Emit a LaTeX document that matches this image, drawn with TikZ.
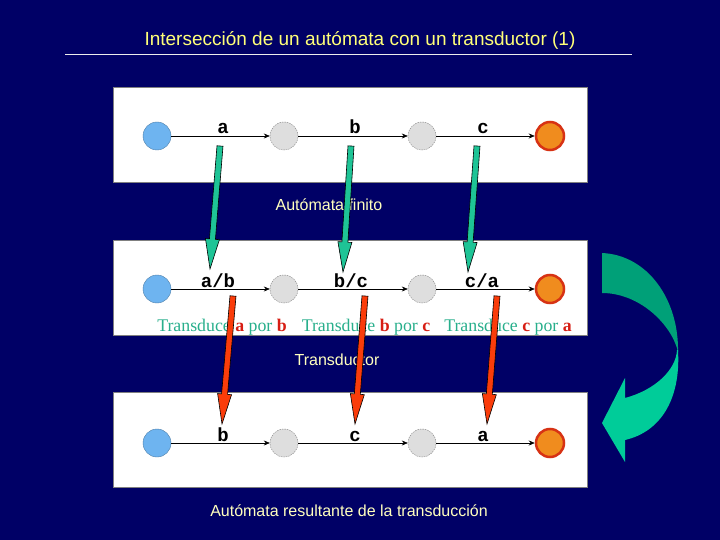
\documentclass[tikz,border=0pt]{standalone}
\usepackage{fontspec}
\setmainfont{Liberation Serif}
\setsansfont{Liberation Sans}
\setmonofont{Liberation Mono}
\usetikzlibrary{calc,arrows.meta}
\definecolor{bgnavy}{RGB}{0,0,102}
\definecolor{titleyel}{RGB}{255,255,120}
\definecolor{lblyel}{RGB}{255,255,190}
\definecolor{greenarr}{RGB}{30,196,150}
\definecolor{redarr}{RGB}{250,60,10}
\definecolor{startblue}{RGB}{110,180,240}
\definecolor{midgrey}{RGB}{222,222,222}
\definecolor{finorange}{RGB}{240,140,30}
\definecolor{finred}{RGB}{215,50,20}
\definecolor{tealtxt}{RGB}{40,175,140}
\definecolor{redtxt}{RGB}{215,30,20}
\definecolor{darkband}{RGB}{0,160,120}
\definecolor{lightband}{RGB}{0,204,153}
\newcommand{\FatArr}[3]{%
  \filldraw[fill=#3,draw=black,line width=0.6pt]
    ($(#1)!3pt!90:(#2)$) --
    ($($(#2)!30pt!(#1)$)!3pt!90:(#2)$) --
    ($($(#2)!30pt!(#1)$)!7pt!90:(#2)$) --
    (#2) --
    ($($(#2)!30pt!(#1)$)!7pt!-90:(#2)$) --
    ($($(#2)!30pt!(#1)$)!3pt!-90:(#2)$) --
    ($(#1)!3pt!-90:(#2)$) -- cycle;}
\tikzset{
  panel/.style={draw=gray,line width=0.6pt,fill=white,minimum width=474pt,minimum height=95pt,inner sep=0pt},
  startst/.style={circle,fill=startblue,draw=startblue!70!black,line width=0.4pt,minimum size=28pt,inner sep=0pt},
  midst/.style={circle,fill=midgrey,draw=gray,dash pattern=on 1.5pt off 1pt,line width=0.4pt,minimum size=28pt,inner sep=0pt},
  finst/.style={circle,fill=finorange,draw=finred,line width=2.5pt,minimum size=28pt,inner sep=0pt},
  edge/.style={draw=black,line width=0.6pt,-{Stealth[length=6pt,width=5pt]}},
  lbl/.style={font=\fontsize{19}{19}\selectfont\ttfamily\bfseries,anchor=base,inner sep=0pt},
  captxt/.style={font=\fontsize{16}{16}\selectfont\sffamily,text=lblyel,inner sep=0pt},
  trtxt/.style={font=\fontsize{17.8}{18}\selectfont\rmfamily,text=tealtxt,inner sep=0pt,anchor=base},
}
\begin{document}
\begin{tikzpicture}[x=1pt,y=-1pt]
\fill[bgnavy] (0,0) rectangle (720,540);
\useasboundingbox (0,0) rectangle (720,540);
% title
\node[font=\fontsize{19}{19}\selectfont\sffamily,text=titleyel,inner sep=0pt] (title) at (360,40) {Intersección de un autómata con un transductor (1)};
\coordinate (tl) at (65,54);
\coordinate (tr) at (632,54);
\draw[white!85!gray,line width=0.8pt] (tl) -- (tr);
% panels
\node[panel] (p1) at (350,134.5) {};
\node[panel] (p2) at (350,288) {};
\node[panel] (p3) at (350,440) {};
% row 1
\node[startst] (s11) at (157,136) {};
\node[midst] (s12) at (284,136) {};
\node[midst] (s13) at (422,136) {};
\node[finst] (s14) at (550,136) {};
\draw[edge] (s11) -- (s12);
\draw[edge] (s12) -- (s13);
\draw[edge] (s13) -- (s14);
\node[lbl] (l11) at (223,134) {a};
\node[lbl] (l12) at (355,134) {b};
\node[lbl] (l13) at (483,134) {c};
% row 2
\node[startst] (s21) at (157,289) {};
\node[midst] (s22) at (284,289) {};
\node[midst] (s23) at (422,289) {};
\node[finst] (s24) at (550,289) {};
\draw[edge] (s21) -- (s22);
\draw[edge] (s22) -- (s23);
\draw[edge] (s23) -- (s24);
\node[lbl] (l21) at (218,287) {a/b};
\node[lbl] (l22) at (351,287) {b/c};
\node[lbl] (l23) at (482,287) {c/a};
\node[trtxt] (t1) at (222,331) {Transduce \textcolor{redtxt}{\textbf{a}} por \textcolor{redtxt}{\textbf{b}}};
\node[trtxt] (t2) at (366,331) {Transduce \textcolor{redtxt}{\textbf{b}} por \textcolor{redtxt}{\textbf{c}}};
\node[trtxt] (t3) at (508,331) {Transduce \textcolor{redtxt}{\textbf{c}} por \textcolor{redtxt}{\textbf{a}}};
% row 3
\node[startst] (s31) at (157,443) {};
\node[midst] (s32) at (284,443) {};
\node[midst] (s33) at (422,443) {};
\node[finst] (s34) at (550,443) {};
\draw[edge] (s31) -- (s32);
\draw[edge] (s32) -- (s33);
\draw[edge] (s33) -- (s34);
\node[lbl] (l31) at (223,441.5) {b};
\node[lbl] (l32) at (355,441.5) {c};
\node[lbl] (l33) at (483,441.5) {a};
% captions
\node[captxt] (c1) at (329,205) {Autómata finito};
\node[captxt] (c2) at (337,360) {Transductor};
\node[captxt] (c3) at (349,511) {Autómata resultante de la transducción};
% green arrows
\coordinate (g1s) at (220,146); \coordinate (g1t) at (210,269);
\coordinate (g2s) at (351,146); \coordinate (g2t) at (343,272);
\coordinate (g3s) at (477,146); \coordinate (g3t) at (468,272);
\FatArr{g1s}{g1t}{greenarr}
\FatArr{g2s}{g2t}{greenarr}
\FatArr{g3s}{g3t}{greenarr}
% red arrows
\coordinate (r1s) at (233,296); \coordinate (r1t) at (222,424);
\coordinate (r2s) at (365,296); \coordinate (r2t) at (355,424);
\coordinate (r3s) at (497,296); \coordinate (r3t) at (487,424);
\FatArr{r1s}{r1t}{redarr}
\FatArr{r2s}{r2t}{redarr}
\FatArr{r3s}{r3t}{redarr}
% curved arrow
\fill[darkband] (602,253) .. controls (648,255) and (679,300) .. (678,352)
  .. controls (672,325) and (640,293) .. (602,293) -- cycle;
\fill[lightband] (678,350) .. controls (681,400) and (660,432) .. (625,440)
  -- (625,462) -- (602,423) -- (625,378) -- (625,398)
  .. controls (655,390) and (676,370) .. (677,350) -- cycle;
\end{tikzpicture}
\end{document}
